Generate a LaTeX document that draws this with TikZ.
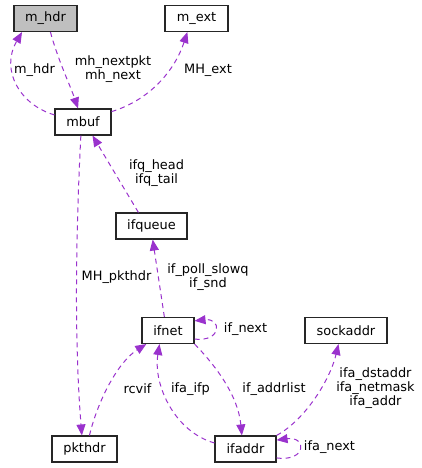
\documentclass[tikz,border=0pt]{standalone}
\usepackage{fontspec}
\setmainfont{DejaVu Sans}
\usepackage{xcolor}
\usetikzlibrary{arrows.meta}
\definecolor{edgepurple}{HTML}{9A32CD}
\definecolor{boxgray}{HTML}{BFBFBF}

\begin{document}
\begin{tikzpicture}[x=1pt, y=-1pt,
    box/.style={draw=black!85, line width=1.1pt, rectangle, minimum height=26pt, inner sep=2pt, font=\fontsize{12.9}{14}\selectfont},
    edge/.style={draw=edgepurple, line width=1pt, dash pattern=on 5pt off 4pt, -{Triangle[length=11pt, width=9pt]}, edgepurple},
    lbl/.style={align=center, inner sep=0pt, font=\fontsize{12.9}{14}\selectfont}]

\useasboundingbox (0,0) rectangle (422,468);

% Class boxes
\node[box, fill=boxgray, minimum width=63pt] (mhdr) at (45.5,18.5) {m\_hdr};
\node[box, minimum width=63pt] (mext) at (196.5,18.5) {m\_ext};
\node[box, minimum width=56pt] (mbuf) at (83,122) {mbuf};
\node[box, minimum width=71pt] (ifqueue) at (151.5,226) {ifqueue};
\node[box, minimum width=52pt] (ifnet) at (168,330.5) {ifnet};
\node[box, minimum width=82pt] (sockaddr) at (346,330.5) {sockaddr};
\node[box, minimum width=65pt] (pkthdr) at (84.5,449) {pkthdr};
\node[box, minimum width=61pt] (ifaddr) at (245.5,449) {ifaddr};

% mbuf and its headers
\draw[edge] (mbuf.166) .. controls (20,105) and (0,70) .. (mhdr.-150);
\node[lbl] (l_mhdr) at (34.5,70) {m\_hdr};
\draw[edge] (mhdr.-70) .. controls (58,60) and (70,85) .. (mbuf.110);
\node[lbl] (l_mhnext) at (113,69) {mh\_nextpkt\\mh\_next};
\draw[edge] (mbuf.20) .. controls (150,100) and (175,70) .. (mext.-124);
\node[lbl] (l_mhext) at (208,70) {MH\_ext};

% Queue and packet header
\draw[edge] (ifqueue.134) -- (mbuf.-55);
\node[lbl] (l_ifq) at (156.5,173) {ifq\_head\\ifq\_tail};
\draw[edge] (ifnet.105) -- (ifqueue.-85);
\node[lbl] (l_ifsnd) at (208,277) {if\_poll\_slowq\\if\_snd};
\draw[edge] (mbuf.-99) .. controls (75,250) and (75,350) .. (pkthdr.101);
\node[lbl] (l_pkthdr) at (116.5,277) {MH\_pkthdr};

% Interface links
\draw[edge] (pkthdr.70) .. controls (98,400) and (118,362) .. (ifnet.-148);
\node[lbl] (l_rcvif) at (137.5,389) {rcvif};
\draw[edge] (ifnet.-18) .. controls (222,342) and (222,318) .. (ifnet.20);
\node[lbl] (l_ifnext) at (245.5,329) {if\_next};
\draw[edge] (ifaddr.169) .. controls (175,432) and (153,385) .. (ifnet.-122);
\node[lbl] (l_ifaifp) at (190.5,389) {ifa\_ifp};
\draw[edge] (ifnet.-27) .. controls (215,365) and (238,395) .. (ifaddr.105);
\node[lbl] (l_addrlist) at (274,389) {if\_addrlist};

% Address links
\draw[edge] (ifaddr.north east) .. controls (305,420) and (330,380) .. (sockaddr.-119);
\node[lbl] (l_ifaaddr) at (375.5,388) {ifa\_dstaddr\\ifa\_netmask\\ifa\_addr};
\draw[edge] (ifaddr.-16) .. controls (307,462) and (307,436) .. (ifaddr.16);
\node[lbl] (l_ifanext) at (329.5,447) {ifa\_next};

\end{tikzpicture}
\end{document}
